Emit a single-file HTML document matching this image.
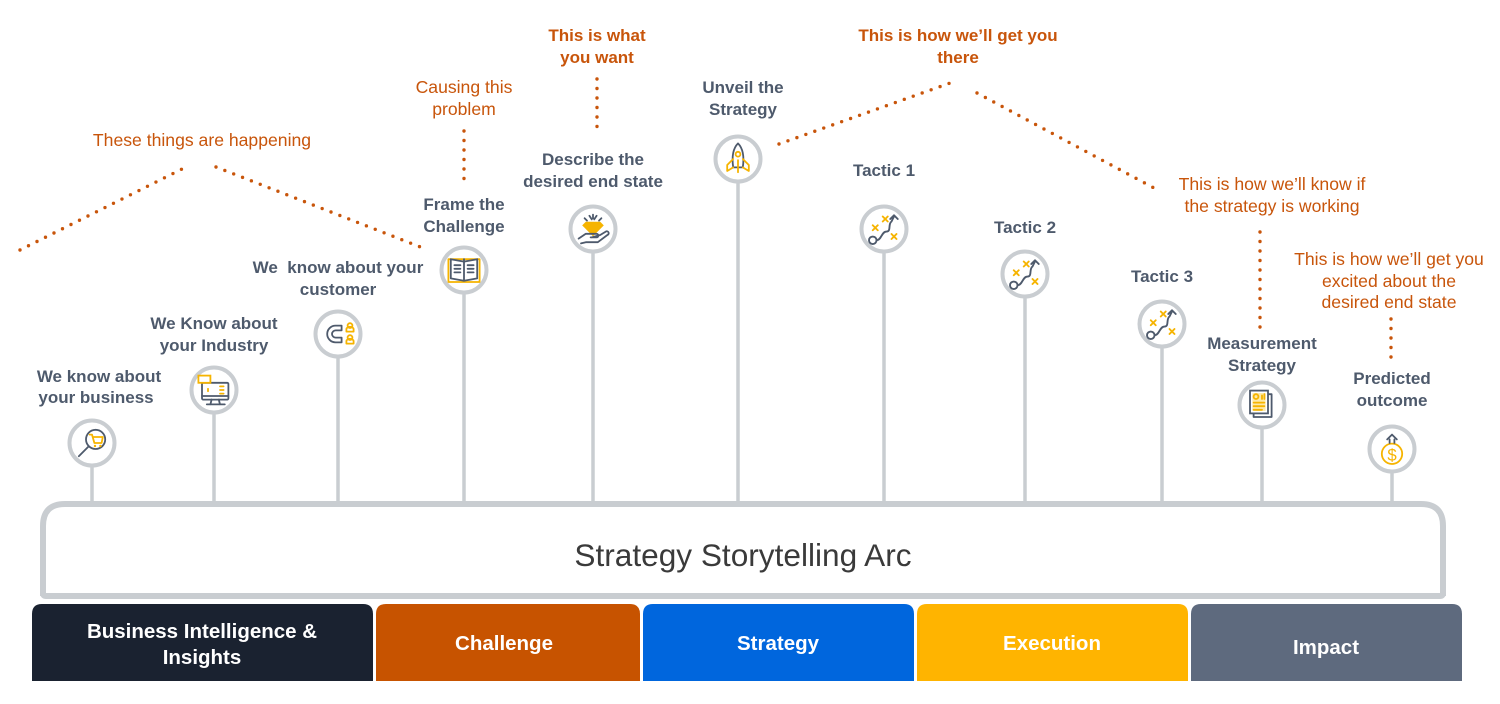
<!DOCTYPE html>
<html><head><meta charset="utf-8"><style>
html,body{margin:0;padding:0;background:#fff;}
svg{display:block;}
.lbl{font-family:"Liberation Sans",Arial,sans-serif;font-weight:bold;font-size:17px;fill:#4e5a6c;text-anchor:middle;}
.or{font-family:"Liberation Sans",Arial,sans-serif;font-size:17.6px;fill:#c8550b;text-anchor:middle;}
.orb{font-family:"Liberation Sans",Arial,sans-serif;font-weight:bold;font-size:17px;fill:#c8550b;text-anchor:middle;}
.band{font-family:"Liberation Sans",Arial,sans-serif;font-weight:bold;font-size:20.5px;fill:#fff;text-anchor:middle;}
.dot{stroke:#c8550b;stroke-width:3.4;stroke-linecap:round;stroke-dasharray:0 9.5;fill:none;}
.stem{stroke:#c9cdd1;stroke-width:3.5;}
.ring{fill:#fff;stroke:#c9cdd1;stroke-width:4;}
.nv{fill:none;stroke:#4e5a6c;stroke-width:1.5;stroke-linecap:round;stroke-linejoin:round;}
.yl{fill:none;stroke:#f6b400;stroke-width:1.5;stroke-linecap:round;stroke-linejoin:round;}
</style></head><body>
<svg width="1500" height="704" viewBox="0 0 1500 704" xmlns="http://www.w3.org/2000/svg">
<!-- dotted connectors -->
<line class="dot" x1="20" y1="250" x2="188" y2="166"/>
<line class="dot" x1="216" y1="167" x2="423" y2="248"/>
<line class="dot" x1="464" y1="131" x2="464" y2="186"/>
<line class="dot" x1="597" y1="79" x2="597" y2="136"/>
<line class="dot" x1="779" y1="144" x2="953" y2="82"/>
<line class="dot" x1="977" y1="93" x2="1154" y2="188"/>
<line class="dot" x1="1260" y1="232" x2="1260" y2="331"/>
<line class="dot" x1="1391" y1="319" x2="1391" y2="360"/>

<!-- orange annotations -->
<text class="or" x="202" y="146">These things are happening</text>
<text class="or" x="464" y="93">Causing this</text>
<text class="or" x="464" y="115">problem</text>
<text class="orb" x="597" y="41">This is what</text>
<text class="orb" x="597" y="63">you want</text>
<text class="orb" x="958" y="41">This is how we’ll get you</text>
<text class="orb" x="958" y="63">there</text>
<text class="or" x="1272" y="190">This is how we’ll know if</text>
<text class="or" x="1272" y="212">the strategy is working</text>
<text class="or" x="1389" y="265">This is how we’ll get you</text>
<text class="or" x="1389" y="287">excited about the</text>
<text class="or" x="1389" y="308">desired end state</text>

<!-- stems -->
<line class="stem" x1="92" y1="467" x2="92" y2="503"/>
<line class="stem" x1="214" y1="414" x2="214" y2="503"/>
<line class="stem" x1="338" y1="358" x2="338" y2="503"/>
<line class="stem" x1="464" y1="294" x2="464" y2="503"/>
<line class="stem" x1="593" y1="253" x2="593" y2="503"/>
<line class="stem" x1="738" y1="183" x2="738" y2="503"/>
<line class="stem" x1="884" y1="253" x2="884" y2="503"/>
<line class="stem" x1="1025" y1="298" x2="1025" y2="503"/>
<line class="stem" x1="1162" y1="348" x2="1162" y2="503"/>
<line class="stem" x1="1262" y1="429" x2="1262" y2="503"/>
<line class="stem" x1="1392" y1="473" x2="1392" y2="503"/>

<!-- rings -->
<circle class="ring" cx="92" cy="443" r="22.5"/>
<circle class="ring" cx="214" cy="390" r="22.5"/>
<circle class="ring" cx="338" cy="334" r="22.5"/>
<circle class="ring" cx="464" cy="270" r="22.5"/>
<circle class="ring" cx="593" cy="229" r="22.5"/>
<circle class="ring" cx="738" cy="159" r="22.5"/>
<circle class="ring" cx="884" cy="229" r="22.5"/>
<circle class="ring" cx="1025" cy="274" r="22.5"/>
<circle class="ring" cx="1162" cy="324" r="22.5"/>
<circle class="ring" cx="1262" cy="405" r="22.5"/>
<circle class="ring" cx="1392" cy="449" r="22.5"/>

<!-- icon 1: magnifier cart -->
<g transform="translate(92,443) scale(1.2)">
<circle class="nv" cx="3" cy="-3" r="8"/>
<path class="nv" d="M-3,3 L-11,11"/>
<path class="yl" d="M-2,-7 L0,-7 L2,0 L8,0 L9,-5 L1,-5"/>
<circle cx="2.5" cy="2.5" r="1" fill="#f6b400"/><circle cx="7" cy="2.5" r="1" fill="#f6b400"/>
</g>
<!-- icon 2: monitor -->
<g transform="translate(214,390) scale(1.2)">
<rect class="nv" x="-10" y="-6" width="22" height="14" rx="1"/>
<path class="nv" d="M-10,5 L12,5 M-2,8 L-3,12 M4,8 L5,12 M-6,12 L9,12"/>
<rect x="-13" y="-12" width="10" height="6" fill="#fff" stroke="#f6b400" stroke-width="1.5"/>
<path class="yl" d="M-5,-1 L-5,1 M5,-3 L8,-3 M5,0 L8,0 M5,3 L8,3"/>
</g>
<!-- icon 3: magnet & people -->
<g transform="translate(338,334) scale(1.2)">
<path class="nv" d="M3,-7 L-2,-7 A7,7 0 0 0 -2,7 L3,7 L3,3 L-2,3 A3,3 0 0 1 -2,-3 L3,-3 Z"/>
<circle class="yl" cx="10" cy="-7" r="2"/><path class="yl" d="M7,-2 L13,-2 L13,-4 A3,2 0 0 0 7,-4 Z"/>
<circle class="yl" cx="10" cy="3" r="2"/><path class="yl" d="M7,8 L13,8 L13,6 A3,2 0 0 0 7,6 Z"/>
</g>
<!-- icon 4: book -->
<g transform="translate(464,270) scale(1.2)">
<rect class="yl" x="-13" y="-9" width="26" height="19"/>
<path class="nv" d="M0,-9 L0,9 M-11,-9 L0,-7 L11,-9 L11,7 L0,9 L-11,7 Z"/>
<path class="nv" d="M-8,-4 L-3,-4 M-8,-1 L-3,-1 M-8,2 L-3,2 M3,-4 L8,-4 M3,-1 L8,-1 M3,2 L8,2" stroke-width="1"/>
</g>
<!-- icon 5: hand with diamond -->
<g transform="translate(593,229) scale(1.2)">
<path d="M-6,-6 L6,-6 L9,-3 L0,6 L-9,-3 Z" fill="#f6b400"/>
<path class="nv" d="M-3,-11 L-1,-8 M3,-11 L1,-8 M0,-12 L0,-9 M-7,-9 L-5,-7 M7,-9 L5,-7"/>
<path class="nv" d="M-12,8 L-6,4 L3,4 A1.5,1.5 0 0 1 3,7 L-2,7 M-1,7 L6,5 L11,2 A1.5,1.5 0 0 1 12,5 L4,11 L-6,11 L-10,12"/>
</g>
<!-- icon 6: rocket -->
<g transform="translate(738,159) scale(1.2)">
<path class="nv" d="M0,-13 C5,-8 5,0 4,7 L-4,7 C-5,0 -5,-8 0,-13 Z"/>
<circle class="yl" cx="0" cy="-4" r="2"/>
<path class="yl" d="M-4,0 L-9,5 L-9,10 L-4,7 M4,0 L9,5 L9,10 L4,7 M0,1 L0,11"/>
</g>
<!-- icon 7-9: tactics -->
<g id="tac" transform="translate(884,229) scale(1.25)">
<circle class="nv" cx="-9" cy="9" r="3"/>
<path class="nv" d="M-6,9 C-2,9 -2,2 2,2 C6,2 3,-4 6,-6 L8,-10 M5,-8 L8,-11 L11,-8"/>
<path class="yl" d="M-1,-10 L3,-6 M3,-10 L-1,-6 M-9,-3 L-5,1 M-5,-3 L-9,1 M6,4 L10,8 M10,4 L6,8"/>
</g>
<use href="#tac" transform="translate(141,45)"/>
<use href="#tac" transform="translate(278,95)"/>
<!-- icon 10: document -->
<g transform="translate(1262,405) scale(1.2)">
<rect class="nv" x="-7" y="-9" width="15" height="19"/>
<rect x="-10" y="-12" width="15" height="19" fill="#fff" stroke="#4e5a6c" stroke-width="1.5"/>
<rect x="-8" y="-10" width="11" height="15" fill="#fde9a8"/>
<path class="yl" d="M-7,-2 L2,-2 M-7,1 L2,1 M-7,4 L0,4"/>
<circle class="yl" cx="-5" cy="-7" r="2"/>
<path class="yl" d="M0,-8 L0,-5 M2,-9 L2,-5"/>
</g>
<!-- icon 11: coin -->
<g transform="translate(1392,449) scale(1.2)">
<circle class="yl" cx="0" cy="4" r="8.5"/>
<text x="0" y="9.5" font-family="Liberation Sans,Arial,sans-serif" font-size="14" fill="#f6b400" text-anchor="middle">$</text>
<path class="nv" d="M-4,-8 L0,-12 L4,-8 M-2,-8 L-2,-5 M2,-8 L2,-5"/>
</g>

<!-- node labels -->
<text class="lbl" x="99" y="382">We know about</text>
<text class="lbl" x="96" y="403">your business</text>
<text class="lbl" x="214" y="329">We Know about</text>
<text class="lbl" x="214" y="351">your Industry</text>
<text class="lbl" x="338" y="273" xml:space="preserve">We  know about your</text>
<text class="lbl" x="338" y="295">customer</text>
<text class="lbl" x="464" y="210">Frame the</text>
<text class="lbl" x="464" y="232">Challenge</text>
<text class="lbl" x="593" y="165">Describe the</text>
<text class="lbl" x="593" y="187">desired end state</text>
<text class="lbl" x="743" y="93">Unveil the</text>
<text class="lbl" x="743" y="115">Strategy</text>
<text class="lbl" x="884" y="176">Tactic 1</text>
<text class="lbl" x="1025" y="233">Tactic 2</text>
<text class="lbl" x="1162" y="282">Tactic 3</text>
<text class="lbl" x="1262" y="349">Measurement</text>
<text class="lbl" x="1262" y="371">Strategy</text>
<text class="lbl" x="1392" y="384">Predicted</text>
<text class="lbl" x="1392" y="406">outcome</text>

<!-- main box -->
<path d="M43,596 L43,526 Q43,504 65,504 L1421,504 Q1443,504 1443,526 L1443,596" fill="#fff" stroke="#c9cdd1" stroke-width="6" stroke-linejoin="round"/>
<path d="M43,593 Q43,596 46,596 L1440,596 Q1443,596 1443,593" fill="none" stroke="#c9cdd1" stroke-width="6"/>
<text x="743" y="566" font-family="Liberation Sans,Arial,sans-serif" font-size="31.6" fill="#3a3a3a" text-anchor="middle">Strategy Storytelling Arc</text>

<!-- bands -->
<path d="M32,681 L32,614 Q32,604 42,604 L363,604 Q373,604 373,614 L373,681 Z" fill="#1a2230"/>
<path d="M376,681 L376,614 Q376,604 386,604 L630,604 Q640,604 640,614 L640,681 Z" fill="#c75300"/>
<path d="M643,681 L643,614 Q643,604 653,604 L904,604 Q914,604 914,614 L914,681 Z" fill="#0066dd"/>
<path d="M917,681 L917,614 Q917,604 927,604 L1178,604 Q1188,604 1188,614 L1188,681 Z" fill="#ffb400"/>
<path d="M1191,681 L1191,614 Q1191,604 1201,604 L1452,604 Q1462,604 1462,614 L1462,681 Z" fill="#5e6a7e"/>
<text class="band" x="202" y="638">Business Intelligence &amp;</text>
<text class="band" x="202" y="664">Insights</text>
<text class="band" x="504" y="650">Challenge</text>
<text class="band" x="778" y="650">Strategy</text>
<text class="band" x="1052" y="650">Execution</text>
<text class="band" x="1326" y="654">Impact</text>
</svg>
</body></html>
